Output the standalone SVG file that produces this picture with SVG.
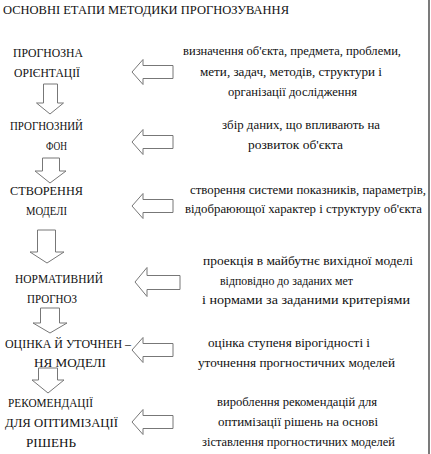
<svg xmlns="http://www.w3.org/2000/svg" width="431" height="454" viewBox="0 0 431 454">
<style>
text{font-size:12.5px;fill:#111}
.ar{fill:#fff;stroke:#777;stroke-width:1}
</style>
<rect width="431" height="454" fill="#fff"/>
<line x1="429" y1="0" x2="429" y2="454" stroke="#222" stroke-width="1.2"/>
<g font-family="Liberation Serif">
<text x="3" y="14" textLength="286" lengthAdjust="spacingAndGlyphs">ОСНОВНІ  ЕТАПИ  МЕТОДИКИ  ПРОГНОЗУВАННЯ</text>
<g id="stage1">
<text x="13" y="57" textLength="70" lengthAdjust="spacingAndGlyphs">ПРОГНОЗНА</text>
<text x="14" y="77" textLength="66" lengthAdjust="spacingAndGlyphs">ОРІЄНТАЦІЇ</text>
</g>
<g id="desc1">
<text x="183" y="55" textLength="218" lengthAdjust="spacingAndGlyphs">визначення  об'єкта,  предмета,  проблеми,</text>
<text x="200" y="76" textLength="182" lengthAdjust="spacingAndGlyphs">мети,  задач,  методів,  структури  і</text>
<text x="228" y="96" textLength="129" lengthAdjust="spacingAndGlyphs">організації  дослідження</text>
</g>
<g id="stage2">
<text x="10" y="130" textLength="73" lengthAdjust="spacingAndGlyphs">ПРОГНОЗНИЙ</text>
<text x="46" y="150" textLength="21" lengthAdjust="spacingAndGlyphs">ФОН</text>
</g>
<g id="desc2">
<text x="222" y="129" textLength="158" lengthAdjust="spacingAndGlyphs">збір  даних, що  впливають  на</text>
<text x="248" y="149" textLength="95" lengthAdjust="spacingAndGlyphs">розвиток  об'єкта</text>
</g>
<g id="stage3">
<text x="10" y="195" textLength="73" lengthAdjust="spacingAndGlyphs">СТВОРЕННЯ</text>
<text x="26" y="215" textLength="41" lengthAdjust="spacingAndGlyphs">МОДЕЛІ</text>
</g>
<g id="desc3">
<text x="190" y="194" textLength="236" lengthAdjust="spacingAndGlyphs">створення  системи  показників,  параметрів,</text>
<text x="185" y="213" textLength="237" lengthAdjust="spacingAndGlyphs">відобраюющої  характер  і  структуру  об'єкта</text>
</g>
<g id="stage4">
<text x="15" y="283" textLength="88" lengthAdjust="spacingAndGlyphs">НОРМАТИВНИЙ</text>
<text x="27" y="303" textLength="50" lengthAdjust="spacingAndGlyphs">ПРОГНОЗ</text>
</g>
<g id="desc4">
<text x="203" y="265" textLength="210" lengthAdjust="spacingAndGlyphs">проекція  в  майбутнє  вихідної  моделі</text>
<text x="220" y="285" textLength="133" lengthAdjust="spacingAndGlyphs">відповідно  до  заданих  мет</text>
<text x="202" y="304" textLength="208" lengthAdjust="spacingAndGlyphs">і  нормами  за  заданими  критеріями</text>
</g>
<g id="stage5">
<text x="5" y="348" textLength="126" lengthAdjust="spacingAndGlyphs">ОЦІНКА Й УТОЧНЕН –</text>
<text x="34" y="367" textLength="72" lengthAdjust="spacingAndGlyphs">НЯ  МОДЕЛІ</text>
</g>
<g id="desc5">
<text x="208" y="347" textLength="162" lengthAdjust="spacingAndGlyphs">оцінка  ступеня  вірогідності  і</text>
<text x="198" y="367" textLength="197" lengthAdjust="spacingAndGlyphs">уточнення  прогностичних  моделей</text>
</g>
<g id="stage6">
<text x="8" y="407" textLength="85" lengthAdjust="spacingAndGlyphs">РЕКОМЕНДАЦІЇ</text>
<text x="5" y="427" textLength="113" lengthAdjust="spacingAndGlyphs">ДЛЯ  ОПТИМІЗАЦІЇ</text>
<text x="26" y="447" textLength="50" lengthAdjust="spacingAndGlyphs">РІШЕНЬ</text>
</g>
<g id="desc6">
<text x="217" y="406" textLength="160" lengthAdjust="spacingAndGlyphs">вироблення  рекомендацій  для</text>
<text x="218" y="426" textLength="160" lengthAdjust="spacingAndGlyphs">оптимізації   рішень  на  основі</text>
<text x="202" y="446" textLength="193" lengthAdjust="spacingAndGlyphs">зіставлення  прогностичних  моделей</text>
</g>
</g>
<g id="connectors">
<path class="ar" d="M132,72 L143,59.5 L143,65.5 L173,65.5 L173,78.5 L143,78.5 L143,84.5 Z"/>
<path class="ar" d="M132,142 L143,129.5 L143,135.5 L173,135.5 L173,148.5 L143,148.5 L143,154.5 Z"/>
<path class="ar" d="M132,206 L143,193.5 L143,199.5 L173,199.5 L173,212.5 L143,212.5 L143,218.5 Z"/>
<path class="ar" d="M135,282 L147,267.5 L147,275.5 L180,275.5 L180,289.5 L147,289.5 L147,296.5 Z"/>
<path class="ar" d="M132,350 L143,337.5 L143,343.5 L173,343.5 L173,356.5 L143,356.5 L143,362.5 Z"/>
<path class="ar" d="M132,422 L143,409.5 L143,415.5 L173,415.5 L173,428.5 L143,428.5 L143,434.5 Z"/>
<path class="ar" d="M43.5,84 L57.5,84 L57.5,103 L63.5,103 L50,114 L36.5,103 L43.5,103 Z"/>
<path class="ar" d="M42.5,158 L59.5,158 L59.5,171 L66,171 L50,183 L35,171 L42.5,171 Z"/>
<path class="ar" d="M37.5,230 L55.5,230 L55.5,252 L64,252 L47,263 L30,252 L37.5,252 Z"/>
<path class="ar" d="M40.5,308 L59.5,308 L59.5,323 L67,323 L50,333 L33,323 L40.5,323 Z"/>
<path class="ar" d="M38.5,368 L57.5,368 L57.5,380 L64,380 L48,393 L32,380 L38.5,380 Z"/>
</g>
</svg>
